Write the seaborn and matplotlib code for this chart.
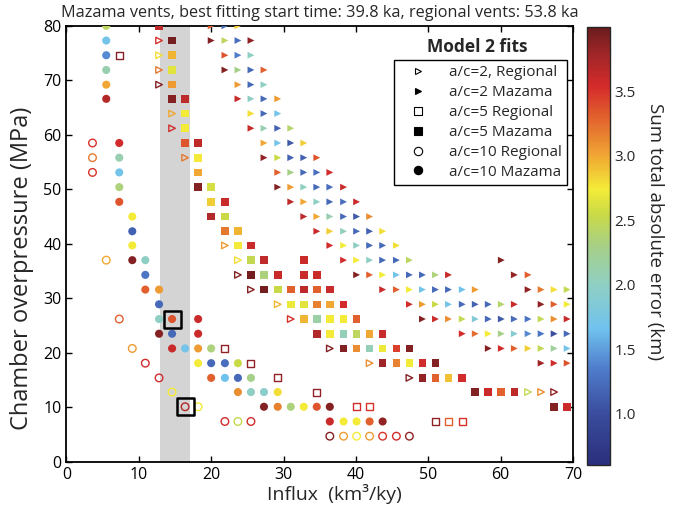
import matplotlib
matplotlib.use('Agg')
import matplotlib.pyplot as plt
import pandas as pd
import seaborn as sns
from matplotlib.colors import LinearSegmentedColormap, Normalize
from matplotlib.cm import ScalarMappable
from matplotlib.lines import Line2D

# (influx km3/ky, chamber overpressure MPa, sum total absolute error km)
tri_regional = [
    (12.8, 77.3, 3.5), (12.8, 74.6, 2.8), (12.8, 71.9, 3.2), (12.8, 69.2, 3.9),
    (14.6, 63.9, 3.0), (14.6, 61.2, 3.55), (16.4, 55.8, 3.2), (21.9, 39.7, 3.05),
    (23.7, 37.0, 2.8), (23.7, 34.3, 3.9), (25.5, 31.6, 3.9), (29.2, 28.9, 2.95),
    (31.0, 26.2, 3.5), (36.4, 20.8, 3.9), (41.9, 18.1, 3.1), (47.4, 15.4, 3.9),
    (63.8, 12.8, 2.5), (65.6, 12.8, 3.1), (67.4, 12.8, 3.85),
]

tri_mazama = [
    (20.0, 80.0, 3.3), (21.9, 80.0, 1.2), (23.7, 80.0, 2.85),
    (20.0, 77.3, 3.9), (21.9, 77.3, 2.45), (23.7, 77.3, 1.25), (25.5, 77.3, 3.85),
    (21.9, 74.6, 3.35), (23.7, 74.6, 1.35), (25.5, 74.6, 2.0),
    (21.9, 71.9, 3.9), (23.7, 71.9, 2.3), (25.5, 71.9, 1.2), (27.3, 71.9, 3.3),
    (23.7, 69.2, 3.05), (25.5, 69.2, 1.2), (27.3, 69.2, 2.0),
    (23.7, 66.6, 3.6), (25.5, 66.6, 2.0), (27.3, 66.6, 1.2), (29.2, 66.6, 3.05),
    (25.5, 63.9, 2.8), (27.3, 63.9, 1.2), (29.2, 63.9, 1.7),
    (25.5, 61.2, 3.6), (27.3, 61.2, 2.1), (29.2, 61.2, 1.15), (31.0, 61.2, 2.4),
    (27.3, 58.5, 3.0), (29.2, 58.5, 1.7), (31.0, 58.5, 1.1), (32.8, 58.5, 2.85),
    (27.3, 55.8, 3.85), (29.2, 55.8, 2.55), (31.0, 55.8, 1.15), (32.8, 55.8, 1.15),
    (34.6, 55.8, 3.35),
    (29.2, 53.1, 3.3), (31.0, 53.1, 2.3), (32.8, 53.1, 1.2), (34.6, 53.1, 1.25),
    (36.4, 53.1, 3.55),
    (29.2, 50.4, 3.9), (31.0, 50.4, 3.05), (32.8, 50.4, 2.0), (34.6, 50.4, 1.2),
    (36.4, 50.4, 1.25), (38.3, 50.4, 3.6),
    (31.0, 47.7, 3.65), (32.8, 47.7, 3.0), (34.6, 47.7, 2.0), (36.4, 47.7, 1.2),
    (38.3, 47.7, 1.25), (40.1, 47.7, 3.6),
    (32.8, 45.0, 3.65), (34.6, 45.0, 3.0), (36.4, 45.0, 2.1), (38.3, 45.0, 1.2),
    (40.1, 45.0, 1.1), (41.9, 45.0, 3.1),
    (34.6, 42.3, 3.6), (36.4, 42.3, 2.85), (38.3, 42.3, 2.05), (40.1, 42.3, 1.2),
    (41.9, 42.3, 1.15), (43.7, 42.3, 2.8),
    (36.4, 39.7, 3.55), (38.3, 39.7, 2.75), (40.1, 39.7, 2.0), (41.9, 39.7, 1.2),
    (43.7, 39.7, 1.2), (45.6, 39.7, 2.8),
    (38.3, 37.0, 3.55), (40.1, 37.0, 2.75), (41.9, 37.0, 2.0), (43.7, 37.0, 1.2),
    (45.6, 37.0, 1.2), (47.4, 37.0, 2.45), (60.1, 37.0, 3.9),
    (40.1, 34.3, 3.9), (41.9, 34.3, 3.3), (43.7, 34.3, 2.75), (45.6, 34.3, 1.7),
    (47.4, 34.3, 1.2), (49.2, 34.3, 1.2), (51.0, 34.3, 2.35), (52.8, 34.3, 3.6),
    (61.9, 34.3, 3.85), (63.8, 34.3, 3.3),
    (43.7, 31.6, 3.6), (45.6, 31.6, 3.3), (47.4, 31.6, 2.75), (49.2, 31.6, 1.7),
    (51.0, 31.6, 1.2), (52.8, 31.6, 1.2), (54.7, 31.6, 1.65), (56.5, 31.6, 3.05),
    (63.8, 31.6, 3.85), (65.6, 31.6, 3.2), (67.4, 31.6, 2.8), (69.2, 31.6, 2.5),
    (47.4, 28.9, 3.55), (49.2, 28.9, 3.05), (51.0, 28.9, 2.55), (52.8, 28.9, 1.7),
    (54.7, 28.9, 1.2), (56.5, 28.9, 1.15), (58.3, 28.9, 1.2), (60.1, 28.9, 2.4),
    (61.9, 28.9, 3.6), (65.6, 28.9, 3.85), (67.4, 28.9, 3.3), (69.2, 28.9, 2.75),
    (49.2, 26.2, 3.9), (51.0, 26.2, 3.6), (52.8, 26.2, 3.1), (54.7, 26.2, 2.5),
    (56.5, 26.2, 1.85), (58.3, 26.2, 1.2), (60.1, 26.2, 1.1), (61.9, 26.2, 1.2),
    (63.8, 26.2, 1.3), (65.6, 26.2, 2.5), (67.4, 26.2, 3.1), (69.2, 26.2, 3.6),
    (54.7, 23.5, 3.55), (56.5, 23.5, 3.25), (58.3, 23.5, 2.75), (60.1, 23.5, 2.3),
    (61.9, 23.5, 1.9), (63.8, 23.5, 1.4), (65.6, 23.5, 1.3), (67.4, 23.5, 1.0),
    (69.2, 23.5, 1.2),
    (58.3, 20.8, 3.9), (60.1, 20.8, 3.55), (61.9, 20.8, 3.3), (63.8, 20.8, 2.85),
    (65.6, 20.8, 2.5), (67.4, 20.8, 2.2), (69.2, 20.8, 1.7),
    (65.6, 18.1, 3.8), (67.4, 18.1, 3.55), (69.2, 18.1, 3.35),
]

sq_regional = [
    (7.3, 74.6, 3.9), (21.9, 20.8, 3.85), (25.5, 18.1, 3.85), (29.2, 15.4, 3.85),
    (34.6, 12.8, 3.85), (40.1, 10.1, 3.55), (41.9, 10.1, 3.5), (51.0, 7.4, 3.85),
    (52.8, 7.4, 3.3), (54.7, 7.4, 3.5),
]

sq_mazama = [
    (12.8, 80.0, 3.65), (14.6, 77.3, 3.95), (14.6, 74.6, 2.95), (14.6, 71.9, 2.65),
    (14.6, 69.2, 3.05), (14.6, 66.6, 3.9), (16.4, 66.6, 3.65), (16.4, 63.9, 2.75),
    (16.4, 61.2, 2.75), (16.4, 58.5, 3.35), (18.2, 58.5, 3.65), (18.2, 55.8, 2.75),
    (18.2, 53.1, 3.0), (18.2, 50.4, 3.9), (20.0, 50.4, 2.6), (20.0, 47.7, 2.85),
    (21.9, 47.7, 3.6), (20.0, 45.0, 3.7), (21.9, 45.0, 2.55), (21.9, 42.3, 3.2),
    (23.7, 42.3, 2.95), (23.7, 39.7, 2.75), (25.5, 39.7, 3.6),
    (25.5, 37.0, 2.5), (27.3, 37.0, 3.65), (32.8, 37.0, 3.6),
    (25.5, 34.3, 3.95), (27.3, 34.3, 2.35), (29.2, 34.3, 3.6), (32.8, 34.3, 3.6),
    (34.6, 34.3, 3.6),
    (27.3, 31.6, 3.95), (29.2, 31.6, 2.55), (31.0, 31.6, 3.3), (32.8, 31.6, 3.65),
    (34.6, 31.6, 3.3), (36.4, 31.6, 3.6),
    (31.0, 28.9, 2.7), (32.8, 28.9, 2.65), (34.6, 28.9, 3.15), (36.4, 28.9, 3.0),
    (38.3, 28.9, 3.55),
    (32.8, 26.2, 2.95), (34.6, 26.2, 2.15), (36.4, 26.2, 2.75), (38.3, 26.2, 2.75),
    (40.1, 26.2, 3.3),
    (34.6, 23.5, 3.7), (36.4, 23.5, 2.75), (38.3, 23.5, 2.05), (40.1, 23.5, 2.45),
    (41.9, 23.5, 3.0), (43.7, 23.5, 3.6),
    (38.3, 20.8, 3.9), (40.1, 20.8, 3.1), (41.9, 20.8, 2.05), (43.7, 20.8, 2.7),
    (45.6, 20.8, 3.45), (47.4, 20.8, 3.9),
    (43.7, 18.1, 3.8), (45.6, 18.1, 3.15), (47.4, 18.1, 2.75), (49.2, 18.1, 3.55),
    (51.0, 18.1, 3.9),
    (49.2, 15.4, 3.85), (51.0, 15.4, 3.3), (52.8, 15.4, 2.9), (54.7, 15.4, 3.55),
    (56.5, 12.8, 3.9), (58.3, 12.8, 3.6), (60.1, 12.8, 3.3), (61.9, 12.8, 3.65),
    (67.4, 10.1, 3.9), (69.2, 10.1, 3.6),
]

circ_regional = [
    (3.6, 58.5, 3.5), (3.6, 55.8, 3.2), (3.6, 53.1, 3.5), (5.5, 37.0, 3.0),
    (7.3, 26.2, 3.3), (9.1, 20.8, 3.05), (10.9, 18.1, 3.55), (12.8, 15.4, 3.55),
    (14.6, 12.8, 2.75), (16.4, 10.1, 3.7), (18.2, 10.1, 2.75), (21.9, 7.4, 3.55),
    (23.7, 7.4, 2.5), (25.5, 7.4, 3.55), (36.4, 4.7, 3.9), (38.3, 4.7, 3.05),
    (40.1, 4.7, 2.75), (41.9, 4.7, 3.05), (43.7, 4.7, 3.5), (45.6, 4.7, 3.55),
    (47.4, 4.7, 3.85),
]

circ_mazama = [
    (5.5, 80.0, 2.45), (5.5, 77.3, 1.7), (5.5, 74.6, 1.4), (5.5, 71.9, 2.1),
    (5.5, 69.2, 3.0), (5.5, 66.6, 3.7),
    (7.3, 58.5, 3.55), (7.3, 55.8, 2.1), (7.3, 53.1, 1.7), (7.3, 50.4, 2.35),
    (7.3, 47.7, 3.35),
    (9.1, 45.0, 2.75), (9.1, 42.3, 1.15), (9.1, 39.7, 2.75), (9.1, 37.0, 3.9),
    (10.9, 37.0, 2.0), (10.9, 34.3, 1.3), (10.9, 31.6, 3.3), (12.8, 31.6, 3.05),
    (12.8, 28.9, 1.2),
    (12.8, 26.2, 2.0), (14.6, 26.2, 3.35), (18.2, 26.2, 3.6),
    (12.8, 23.5, 3.9), (14.6, 23.5, 1.2), (18.2, 23.5, 3.6),
    (14.6, 20.8, 3.6), (16.4, 20.8, 1.7), (18.2, 20.8, 3.05), (20.0, 20.8, 2.35),
    (18.2, 18.1, 2.75), (20.0, 18.1, 1.2), (21.9, 18.1, 1.25), (23.7, 18.1, 2.55),
    (20.0, 15.4, 3.3), (21.9, 15.4, 1.65), (23.7, 15.4, 1.2), (25.5, 15.4, 2.3),
    (23.7, 12.8, 3.1), (25.5, 12.8, 2.0), (27.3, 12.8, 1.95), (29.2, 12.8, 2.8),
    (27.3, 10.1, 3.9), (29.2, 10.1, 3.15), (31.0, 10.1, 2.35), (32.8, 10.1, 2.75),
    (34.6, 10.1, 3.35), (36.4, 10.1, 3.9),
    (36.4, 7.4, 3.6), (38.3, 7.4, 2.75), (40.1, 7.4, 2.75), (41.9, 7.4, 3.3),
    (43.7, 7.4, 3.85),
]

# best fits, marked with black boxes
best_x = [14.6, 16.4]
best_y = [26.2, 10.1]

legend_labels = ['a/c=2, Regional', 'a/c=2 Mazama', 'a/c=5 Regional',
                 'a/c=5 Mazama', 'a/c=10 Regional', 'a/c=10 Mazama']

sns.set_style('ticks')
plt.rcParams['font.family'] = ['Open Sans', 'DejaVu Sans']

cmap = LinearSegmentedColormap.from_list('err', [
    (0.00, '#2a2f7c'), (0.12, '#3b4e9f'), (0.22, '#4f7dcb'), (0.31, '#70c2ee'),
    (0.41, '#8fcfc4'), (0.50, '#a7d087'), (0.575, '#cbda45'), (0.63, '#f4ec38'),
    (0.706, '#f0a733'), (0.79, '#e2652e'), (0.865, '#d52b2b'), (0.94, '#a02628'),
    (1.00, '#6b1c1e')])
norm = Normalize(0.6, 4.0)

fig = plt.figure(figsize=(6.78, 5.09), dpi=100)
ax = fig.add_axes([0.098, 0.0927, 0.747, 0.8566])
cax = fig.add_axes([0.866, 0.0865, 0.0335, 0.8605])

ax.axvspan(12.9, 17.1, color='#d4d4d4', lw=0, zorder=0)

series = [
    (tri_regional, '>', True, 22),
    (tri_mazama, '>', False, 24),
    (sq_regional, 's', True, 26),
    (sq_mazama, 's', False, 30),
    (circ_regional, 'o', True, 30),
    (circ_mazama, 'o', False, 34),
]
for pts, mk, hollow, size in series:
    df = pd.DataFrame(pts, columns=['influx', 'pressure', 'error'])
    sns.scatterplot(data=df, x='influx', y='pressure', hue='error', palette=cmap,
                    hue_norm=norm, marker=mk, s=size, linewidth=0, legend=False,
                    ax=ax, zorder=3)
    if hollow:
        coll = ax.collections[-1]
        fc = coll.get_facecolors()
        coll.set_edgecolors(fc)
        coll.set_facecolors('none')
        coll.set_linewidths(1.0)

ax.scatter(best_x, best_y, marker='s', s=150, facecolors='none',
           edgecolors='black', linewidths=1.8, zorder=4)

ax.set_xlim(0, 70)
ax.set_ylim(0, 80)
ax.set_xticks(range(0, 71, 10))
ax.set_yticks(range(0, 81, 10))
ax.tick_params(direction='in', top=True, right=True, length=4, width=1,
               labelsize=11.5, colors='black')
for sp in ax.spines.values():
    sp.set_linewidth(1.3)
    sp.set_color('black')

ax.set_xlabel('Influx  (km³/ky)', fontsize=14)
ax.xaxis.set_label_coords(0.53, -0.05, transform=ax.transAxes)
ax.xaxis.label.set_va('top')
ax.set_ylabel('Chamber overpressure (MPa)', fontsize=17)
ax.yaxis.set_label_coords(-0.065, 0.4445, transform=ax.transAxes)
ax.set_title('Mazama vents, best fitting start time: 39.8 ka, regional vents: 53.8 ka',
             fontsize=11.7, pad=6)

handles = []
for i, lab in enumerate(legend_labels):
    mk = ['>', 's', 'o'][i // 2]
    hollow = i % 2 == 0
    handles.append(Line2D([], [], linestyle='none', marker=mk, markersize=6 if mk != '>' else 5,
                          markerfacecolor='white' if hollow else 'black',
                          markeredgecolor='black', markeredgewidth=0.8, label=lab))
leg = ax.legend(handles=handles, loc='upper right', bbox_to_anchor=(0.988, 0.9216),
                fontsize=11, frameon=True, fancybox=False, framealpha=1,
                edgecolor='black', borderpad=0.35, labelspacing=0.32,
                handlelength=2.5, handletextpad=0.75, borderaxespad=0)
leg.get_frame().set_linewidth(1.0)
ax.text(0.812, 0.951, 'Model 2 fits', transform=ax.transAxes, ha='center',
        va='center', fontsize=12.5, fontweight='bold')

cb = fig.colorbar(ScalarMappable(norm=norm, cmap=cmap), cax=cax)
cb.set_ticks([1.0, 1.5, 2.0, 2.5, 3.0, 3.5])
cb.ax.set_yticklabels(['1.0', '1.5', '2.0', '2.5', '3.0', '3.5'])
cb.ax.tick_params(direction='in', length=4, width=1, labelsize=11)
cb.outline.set_linewidth(1.0)
cb.set_label('Sum total absolute error (km)', rotation=270, fontsize=13.5)
cb.ax.yaxis.set_label_coords(3.0, 0.532, transform=cb.ax.transAxes)
cb.ax.yaxis.label.set_va('center')

fig.savefig('out.png', dpi=100)
